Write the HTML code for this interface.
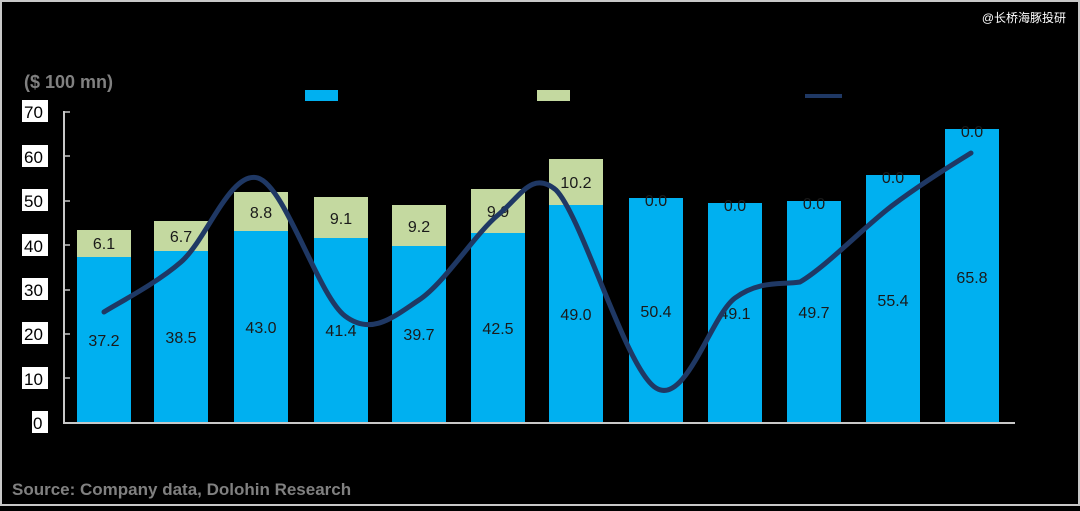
<!DOCTYPE html>
<html><head><meta charset="utf-8"><style>
html,body{margin:0;padding:0;background:#000;}
body{width:1080px;height:506px;overflow:hidden;}
</style></head><body>
<svg width="1080" height="506" viewBox="0 0 1080 506" xmlns="http://www.w3.org/2000/svg" font-family="Liberation Sans, 'Noto Sans CJK SC', sans-serif">
<rect x="1" y="1" width="1078" height="504" fill="#000" stroke="#c8c8c8" stroke-width="2"/>
<text x="1066" y="22" fill="#fff" font-size="12" text-anchor="end" font-family="Liberation Sans, 'Noto Sans CJK SC', sans-serif">@长桥海豚投研</text>
<text x="24" y="88" fill="#808080" font-size="18" font-weight="bold">($ 100 mn)</text>
<rect x="305" y="90" width="33" height="11" fill="#00B0F0"/>
<rect x="537" y="90" width="33" height="11" fill="#C4D9A0"/>
<rect x="805" y="94" width="37" height="4" fill="#1F3864"/>
<g font-size="17" fill="#000">
<rect x="22" y="100" width="26" height="22" fill="#fff"/><text x="24" y="118">70</text>
<rect x="22" y="145" width="26" height="22" fill="#fff"/><text x="24" y="163">60</text>
<rect x="22" y="189" width="26" height="22" fill="#fff"/><text x="24" y="207">50</text>
<rect x="22" y="234" width="26" height="22" fill="#fff"/><text x="24" y="252">40</text>
<rect x="22" y="278" width="26" height="22" fill="#fff"/><text x="24" y="296">30</text>
<rect x="22" y="322" width="26" height="22" fill="#fff"/><text x="24" y="340">20</text>
<rect x="22" y="367" width="26" height="22" fill="#fff"/><text x="24" y="385">10</text>
<rect x="32" y="411" width="16" height="22" fill="#fff"/><text x="33" y="429">0</text>
</g>
<line x1="64" y1="111" x2="64" y2="423" stroke="#c8c8c8" stroke-width="2"/>
<line x1="63" y1="423" x2="1015" y2="423" stroke="#c8c8c8" stroke-width="2"/>
<g stroke="#c8c8c8" stroke-width="1.5">
<line x1="64" y1="112" x2="70" y2="112"/><line x1="64" y1="156" x2="70" y2="156"/><line x1="64" y1="201" x2="70" y2="201"/><line x1="64" y1="245" x2="70" y2="245"/><line x1="64" y1="290" x2="70" y2="290"/><line x1="64" y1="334" x2="70" y2="334"/><line x1="64" y1="378" x2="70" y2="378"/>
</g>
<g id="bars"></g>
<g font-size="16" fill="#1a1a1a" text-anchor="middle">
<!-- bars: center, blue, green -->
<rect x="77" y="257" width="54" height="165" fill="#00B0F0"/><rect x="77" y="230" width="54" height="27" fill="#C4D9A0"/>
<text x="104" y="346">37.2</text><text x="104" y="249">6.1</text>
<rect x="154" y="251" width="54" height="171" fill="#00B0F0"/><rect x="154" y="221" width="54" height="30" fill="#C4D9A0"/>
<text x="181" y="343">38.5</text><text x="181" y="242">6.7</text>
<rect x="234" y="231" width="54" height="191" fill="#00B0F0"/><rect x="234" y="192" width="54" height="39" fill="#C4D9A0"/>
<text x="261" y="333">43.0</text><text x="261" y="218">8.8</text>
<rect x="314" y="238" width="54" height="184" fill="#00B0F0"/><rect x="314" y="197" width="54" height="41" fill="#C4D9A0"/>
<text x="341" y="336">41.4</text><text x="341" y="224">9.1</text>
<rect x="392" y="246" width="54" height="176" fill="#00B0F0"/><rect x="392" y="205" width="54" height="41" fill="#C4D9A0"/>
<text x="419" y="340">39.7</text><text x="419" y="232">9.2</text>
<rect x="471" y="233" width="54" height="189" fill="#00B0F0"/><rect x="471" y="189" width="54" height="44" fill="#C4D9A0"/>
<text x="498" y="334">42.5</text><text x="498" y="217">9.9</text>
<rect x="549" y="205" width="54" height="217" fill="#00B0F0"/><rect x="549" y="159" width="54" height="46" fill="#C4D9A0"/>
<text x="576" y="320">49.0</text><text x="576" y="188">10.2</text>
<rect x="629" y="198" width="54" height="224" fill="#00B0F0"/><text x="656" y="317">50.4</text><text x="656" y="206">0.0</text>
<rect x="708" y="203" width="54" height="219" fill="#00B0F0"/><text x="735" y="319">49.1</text><text x="735" y="211">0.0</text>
<rect x="787" y="201" width="54" height="221" fill="#00B0F0"/><text x="814" y="318">49.7</text><text x="814" y="209">0.0</text>
<rect x="866" y="175" width="54" height="247" fill="#00B0F0"/><text x="893" y="306">55.4</text><text x="893" y="183">0.0</text>
<rect x="945" y="129" width="54" height="293" fill="#00B0F0"/><text x="972" y="283">65.8</text><text x="972" y="137">0.0</text>
</g>
<path fill="none" stroke="#1F3864" stroke-width="5" stroke-linecap="round" d="M104,312 C116.8,303.7 155.3,284.3 181,262 C206.7,239.7 230.7,169.7 258,178 C285.3,186.3 318.2,295.7 345,316 C371.8,336.3 393.5,316.8 419,300 C444.5,283.2 475.2,233.7 498,215 C520.8,196.3 532,170 556,190 C582.3,216.8 626.2,370.2 656,388 C685.8,406.3 711,315.7 735,298 C759,280.3 780,285 800,282 C826.3,266.5 864.5,226.5 893,205 C921.5,183.5 958,161 971,153"/>
<text x="12" y="495" fill="#808080" font-size="17" font-weight="bold">Source:  Company data, Dolohin Research</text>
</svg>
</body></html>
